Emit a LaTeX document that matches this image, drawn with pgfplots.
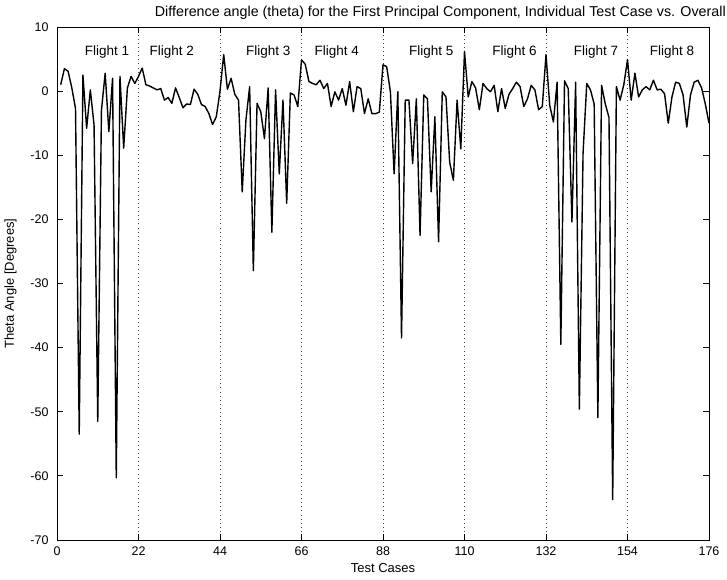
\documentclass[border=0pt]{standalone}
\usepackage{pgfplots}
\pgfplotsset{compat=1.18}
\usepackage{pgfplotstable}
\usepackage{fontspec}
\setmainfont{Liberation Sans}
\pgfplotstableread{
x y
1 1.0
2 3.5
3 3.1
4 0.5
5 -2.7
6 -53.5
7 2.5
8 -5.8
9 0.2
10 -5.3
11 -51.5
12 -3.0
13 2.8
14 -6.3
15 2.0
16 -60.3
17 2.3
18 -8.9
19 0.5
20 2.3
21 1.2
22 2.3
23 3.6
24 1.0
25 0.8
26 0.5
27 0.2
28 0.4
29 -1.4
30 -1.0
31 -1.9
32 0.5
33 -1.0
34 -2.6
35 -2.0
36 -2.1
37 0.3
38 -0.5
39 -2.1
40 -2.4
41 -3.5
42 -5.2
43 -4.0
44 0.0
45 5.7
46 0.3
47 2.0
48 -0.5
49 -1.4
50 -15.7
51 -4.5
52 0.7
53 -28.0
54 -1.9
55 -3.2
56 -7.4
57 0.5
58 -22.0
59 0.2
60 -12.9
61 -1.4
62 -17.5
63 -0.3
64 -0.6
65 -2.4
66 4.9
67 4.2
68 1.5
69 1.2
70 1.0
71 1.7
72 0.4
73 1.2
74 -2.4
75 -0.1
76 -1.4
77 0.4
78 -2.2
79 1.5
80 -3.2
81 0.7
82 0.4
83 -3.5
84 -1.2
85 -3.5
86 -3.5
87 -3.3
88 4.1
89 3.8
90 -0.1
91 -12.9
92 -0.1
93 -38.5
94 -1.4
95 -1.4
96 -11.3
97 -1.2
98 -22.5
99 -0.6
100 -1.2
101 -15.7
102 -4.0
103 -23.5
104 -0.1
105 -0.9
106 -11.1
107 -13.9
108 -1.4
109 -9.0
110 6.2
111 -0.9
112 1.5
113 0.5
114 -2.9
115 1.2
116 0.4
117 -0.1
118 0.9
119 -3.2
120 0.4
121 -2.7
122 -0.5
123 0.4
124 1.4
125 0.7
126 -2.4
127 -1.2
128 0.9
129 0.2
130 -2.9
131 -2.4
132 5.7
133 -2.2
134 -4.8
135 1.4
136 -39.5
137 1.6
138 0.4
139 -20.4
140 1.4
141 -49.6
142 -9.7
143 1.2
144 0.2
145 -2.0
146 -50.9
147 0.9
148 -2.0
149 -4.1
150 -63.7
151 0.7
152 -1.4
153 1.0
154 4.9
155 -1.4
156 2.8
157 -0.9
158 0.2
159 0.7
160 0.2
161 1.7
162 0.2
163 0.3
164 -0.4
165 -5.0
166 -0.9
167 1.4
168 1.2
169 -0.6
170 -5.6
171 -0.6
172 1.4
173 1.7
174 0.5
175 -2.0
176 -5.0
}\theta
\begin{document}
\begin{tikzpicture}
\useasboundingbox (0,0) rectangle (727pt,579pt);
\begin{axis}[
  name=ax,
  at={(57pt,39pt)}, anchor=south west,
  scale only axis,
  width=652pt, height=513pt,
  xmin=0, xmax=176, ymin=-70, ymax=10,
  xtick={0,22,...,176},
  ytick={-70,-60,...,10},
  tick align=inside,
  major tick length=6pt,
  xmajorgrids,
  major x grid style={black!75, dash pattern=on 0.9pt off 3.2pt, line width=0.7pt},
  axis line style={line width=0.9pt},
  tick style={line width=0.9pt, black},
  /pgf/number format/assume math mode=true,
  ticklabel style={font=\fontsize{12.5}{14}\selectfont},
  yticklabel style={xshift=-5pt},
  xticklabel style={yshift=-3pt},
  label style={font=\fontsize{13}{15}\selectfont},
  xlabel={Test Cases},
  ylabel={Theta Angle [Degrees]},
  xlabel style={yshift=-1pt},
  ylabel style={yshift=7pt},
  clip=true,
]
\addplot[black, line width=1.4pt, line join=round, mark=none] table[x=x,y=y] {\theta};
\node[anchor=base, font=\fontsize{13.5}{15}\selectfont] at (axis cs:13.5,5.5) {Flight 1};
\node[anchor=base, font=\fontsize{13.5}{15}\selectfont] at (axis cs:31,5.5) {Flight 2};
\node[anchor=base, font=\fontsize{13.5}{15}\selectfont] at (axis cs:57,5.5) {Flight 3};
\node[anchor=base, font=\fontsize{13.5}{15}\selectfont] at (axis cs:75.5,5.5) {Flight 4};
\node[anchor=base, font=\fontsize{13.5}{15}\selectfont] at (axis cs:101,5.5) {Flight 5};
\node[anchor=base, font=\fontsize{13.5}{15}\selectfont] at (axis cs:123.5,5.5) {Flight 6};
\node[anchor=base, font=\fontsize{13.5}{15}\selectfont] at (axis cs:145.5,5.5) {Flight 7};
\node[anchor=base, font=\fontsize{13.5}{15}\selectfont] at (axis cs:166,5.5) {Flight 8};
\end{axis}
\node[anchor=base east, inner sep=0pt, font=\fontsize{14.3}{16}\selectfont] at ([xshift=17pt,yshift=11pt]ax.north east) {Difference angle (theta) for the First Principal Component, Individual Test Case vs. Overall};
\end{tikzpicture}
\end{document}
